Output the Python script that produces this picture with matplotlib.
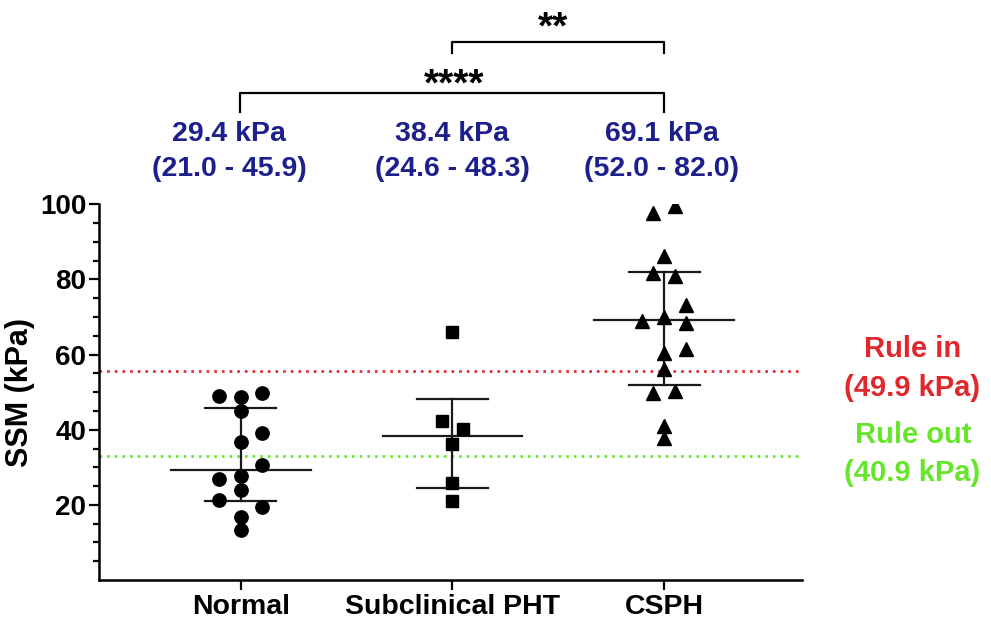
import matplotlib
matplotlib.use("Agg")
import matplotlib.pyplot as plt
import numpy as np

plt.rcParams['font.family'] = ['Liberation Sans', 'DejaVu Sans']

# ---- data ----
categories = ["Normal", "Subclinical PHT", "CSPH"]
normal = [48.9, 48.6, 49.7, 44.9, 39.0, 36.6, 30.7, 27.8, 26.8, 23.9, 21.3, 19.5, 16.8, 13.3]
normal_dx = [-2, 0, 2, 0, 2, 0, 2, 0, -2, 0, -2, 2, 0, 0]
subclinical = [65.9, 42.3, 40.3, 36.3, 25.9, 21.0]
subclinical_dx = [0, -1, 1, 0, 0, 0]
csph = [97.8, 99.5, 86.2, 81.7, 81.0, 73.1, 68.9, 70.0, 68.3, 60.3, 61.4, 56.2, 49.7, 50.2, 41.0, 37.8]
csph_dx = [-1, 1, 0, -1, 1, 2, -2, 0, 2, 0, 2, 0, -1, 1, 0, 0]
medians = [29.4, 38.4, 69.1]
iqr_low = [21.0, 24.6, 52.0]
iqr_high = [45.9, 48.3, 82.0]
summary_line1 = ["29.4 kPa", "38.4 kPa", "69.1 kPa"]
summary_line2 = ["(21.0 - 45.9)", "(24.6 - 48.3)", "(52.0 - 82.0)"]
rule_in_line = 55.7
rule_out_line = 32.9
rule_in_label = ["Rule in", "(49.9 kPa)"]
rule_out_label = ["Rule out", "(40.9 kPa)"]
yticks = [20, 40, 60, 80, 100]

W, H = 991, 621
fig = plt.figure(figsize=(W / 100, H / 100), dpi=100)

def fx(px):
    return px / W

def fy(py):
    return 1 - py / H

ax = fig.add_axes([fx(99), fy(580), fx(802) - fx(99), fy(204.3) - fy(580)])

x_pos = np.arange(len(categories))
unit = 0.0512
groups = [(normal, normal_dx, 'o', 9.6), (subclinical, subclinical_dx, 's', 8.6), (csph, csph_dx, '^', 9.6)]
for i, (vals, dxs, mk, ms) in enumerate(groups):
    xs = x_pos[i] + np.array(dxs) * unit
    ax.plot(xs, vals, linestyle='none', marker=mk, markersize=ms, color='black', zorder=3)

lw = 1.6
for i in range(3):
    ax.plot([x_pos[i] - 0.33, x_pos[i] + 0.33], [medians[i]] * 2, color='#1a1a1a', lw=lw, zorder=2)
    ax.plot([x_pos[i] - 0.168, x_pos[i] + 0.168], [iqr_low[i]] * 2, color='#1a1a1a', lw=lw, zorder=2)
    ax.plot([x_pos[i] - 0.168, x_pos[i] + 0.168], [iqr_high[i]] * 2, color='#1a1a1a', lw=lw, zorder=2)
    ax.plot([x_pos[i]] * 2, [iqr_low[i], iqr_high[i]], color='#1a1a1a', lw=lw, zorder=2)

red = '#e0282c'
green = '#66e52a'
ax.axhline(rule_in_line, color=red, lw=1.9, linestyle=(0, (1, 1.9)), zorder=1)
ax.axhline(rule_out_line, color=green, lw=1.9, linestyle=(0, (1, 1.9)), zorder=1)

ax.set_xlim(-0.669, 2.651)
ax.set_ylim(0, 100)
ax.set_xticks(x_pos)
ax.set_xticklabels(categories, fontsize=20.5, fontweight='bold')
ax.set_yticks(yticks)
ax.set_yticklabels([str(t) for t in yticks], fontsize=20, fontweight='bold')
ax.set_yticks(np.arange(5, 100, 5), minor=True)
ax.tick_params(axis='y', which='major', length=7, width=1.6, pad=2)
ax.tick_params(axis='y', which='minor', length=4, width=1.6)
ax.tick_params(axis='x', which='major', length=7, width=1.6, pad=3)
for s in ['top', 'right']:
    ax.spines[s].set_visible(False)
for s in ['left', 'bottom']:
    ax.spines[s].set_linewidth(1.8)
ax.set_ylabel("SSM (kPa)", fontsize=22, fontweight='bold', labelpad=4)

navy = '#1c1f8c'
text_x = [229, 452, 662]
for i in range(3):
    fig.text(fx(text_x[i]), fy(134), summary_line1[i], ha='center', va='center',
             fontsize=20.5, fontweight='bold', color=navy)
    fig.text(fx(text_x[i]), fy(169), summary_line2[i], ha='center', va='center',
             fontsize=20.5, fontweight='bold', color=navy)

def bracket(x1, x2, ytop, ybot):
    fig.add_artist(plt.Line2D([fx(x1), fx(x1), fx(x2), fx(x2)], [fy(ybot), fy(ytop), fy(ytop), fy(ybot)],
                              color='black', lw=1.6, transform=fig.transFigure))

bracket(240, 664, 92.5, 112)
bracket(452, 664, 41.7, 53)
fig.text(fx(454), fy(85), "****", ha='center', va='center', fontsize=28, fontweight='bold')
fig.text(fx(553), fy(28), "**", ha='center', va='center', fontsize=28, fontweight='bold')

fig.text(fx(913), fy(349), rule_in_label[0], ha='center', va='center', fontsize=21, fontweight='bold', color=red)
fig.text(fx(912), fy(388), rule_in_label[1], ha='center', va='center', fontsize=21, fontweight='bold', color=red)
fig.text(fx(913), fy(435), rule_out_label[0], ha='center', va='center', fontsize=21, fontweight='bold', color=green)
fig.text(fx(912), fy(473), rule_out_label[1], ha='center', va='center', fontsize=21, fontweight='bold', color=green)

fig.savefig("out.png", dpi=100)
